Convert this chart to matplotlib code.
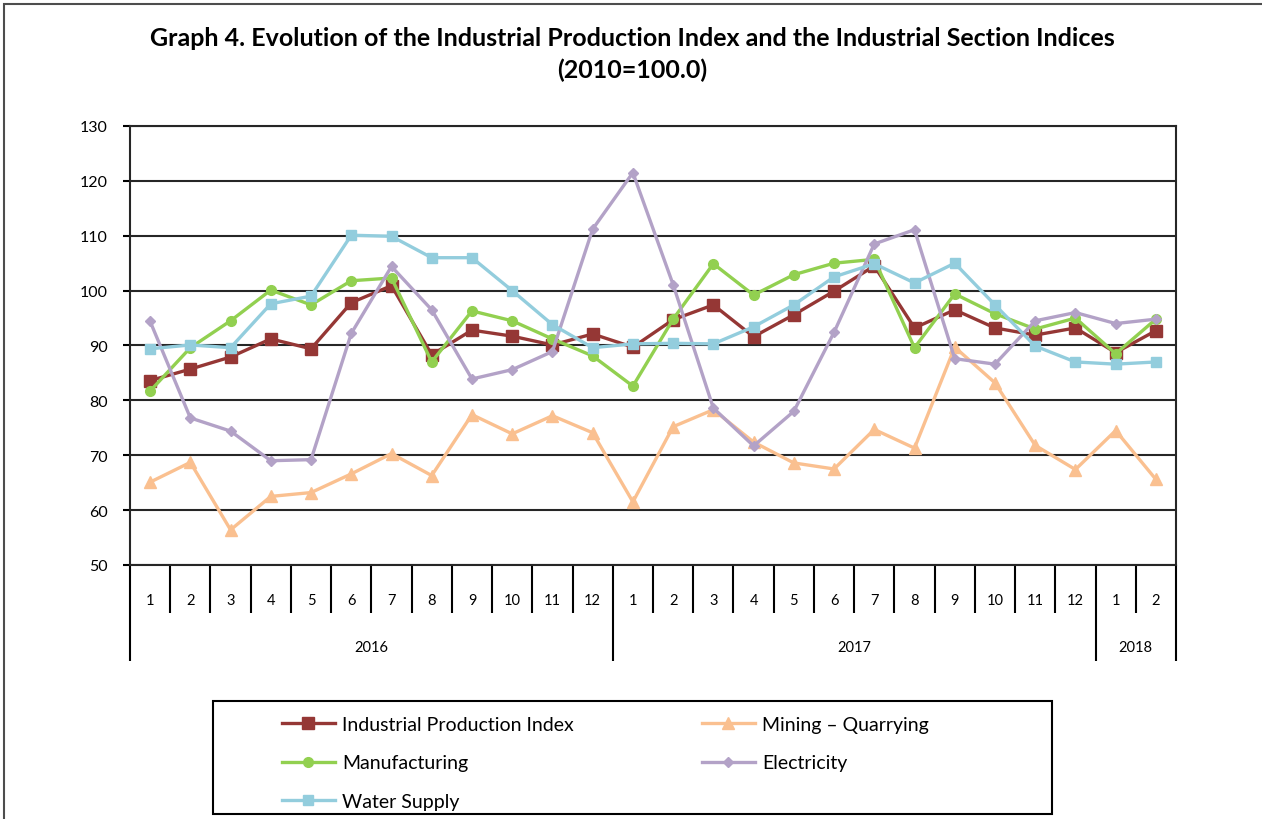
import matplotlib.pyplot as plt
from matplotlib.patches import Rectangle
import matplotlib.transforms as mtransforms

plt.rcParams['font.family'] = ['Lato', 'DejaVu Sans']

# month labels and years
months = [str(m) for m in range(1, 13)] * 2 + ['1', '2']
years = ['2016', '2017', '2018']
year_centres = [5.5, 17.5, 24.5]

# index values (2010=100.0)
ipi = [83.6, 85.7, 87.9, 91.2, 89.4, 97.8, 100.9, 88.3, 92.8, 91.7, 90.1, 92.1,
       89.7, 94.7, 97.4, 91.6, 95.6, 99.9, 104.5, 93.2, 96.5, 93.2, 91.9, 93.2,
       88.7, 92.7]
mining = [65.1, 68.7, 56.4, 62.5, 63.2, 66.6, 70.3, 66.3, 77.4, 73.9, 77.2, 74.1,
          61.5, 75.2, 78.3, 72.4, 68.6, 67.5, 74.7, 71.3, 89.7, 83.2, 71.8, 67.4,
          74.5, 65.6]
manufacturing = [81.7, 89.6, 94.5, 100.1, 97.4, 101.8, 102.3, 87.0, 96.3, 94.5, 91.2, 88.1,
                 82.6, 94.8, 104.9, 99.2, 102.9, 105.0, 105.7, 89.6, 99.4, 95.8, 93.0, 95.0,
                 88.5, 94.8]
electricity = [94.4, 76.8, 74.4, 69.0, 69.2, 92.2, 104.4, 96.5, 83.9, 85.6, 88.9, 111.2,
               121.5, 101.1, 78.6, 71.7, 78.0, 92.4, 108.5, 111.1, 87.6, 86.6, 94.5, 96.0,
               94.0, 94.8]
water = [89.4, 90.1, 89.6, 97.6, 99.0, 110.1, 109.9, 106.0, 106.0, 100.0, 93.8, 89.6,
         90.3, 90.4, 90.3, 93.4, 97.4, 102.5, 104.9, 101.4, 105.0, 97.4, 89.9, 87.0,
         86.6, 87.0]

W, H = 1262, 820
fig = plt.figure(figsize=(W / 100, H / 100), dpi=100)
ax = fig.add_axes([130 / W, (H - 566) / H, 1046 / W, 439 / H])

x = list(range(len(months)))
lw = 2.4
l_ipi, = ax.plot(x, ipi, color='#953735', lw=lw, marker='s', ms=8, label='Industrial Production Index', zorder=3)
l_min, = ax.plot(x, mining, color='#FAC090', lw=lw, marker='^', ms=9, label='Mining \u2013 Quarrying', zorder=3)
l_man, = ax.plot(x, manufacturing, color='#92D050', lw=lw, marker='o', ms=7, label='Manufacturing', zorder=3)
l_ele, = ax.plot(x, electricity, color='#B3A2C7', lw=lw, marker='D', ms=5, label='Electricity', zorder=3)
l_wat, = ax.plot(x, water, color='#93CDDD', lw=lw, marker='s', ms=7.5, label='Water Supply', zorder=3)

ax.set_xlim(-0.5, 25.5)
ax.set_ylim(50, 130)
ax.set_yticks(range(50, 131, 10))
ax.yaxis.grid(True, color='#262626', lw=1.5)
ax.set_axisbelow(True)
for s in ax.spines.values():
    s.set_color('#262626')
    s.set_linewidth(1.5)
ax.tick_params(axis='y', length=5, width=1.5, pad=11, labelsize=11.5, colors='#000000')

# category separators under the axis
seps = [i + 0.5 for i in range(25) if i not in (11, 23)]
ax.set_xticks(seps)
ax.set_xticks([-0.5, 11.5, 23.5, 25.5], minor=True)
ax.tick_params(axis='x', which='major', length=34.6, width=1.5, labelbottom=False)
ax.tick_params(axis='x', which='minor', length=69, width=1.5, labelbottom=False)

trans = mtransforms.blended_transform_factory(ax.transData, ax.transAxes)
for i, m in enumerate(months):
    ax.text(i, -35 / 439, m, transform=trans, ha='center', va='center', fontsize=10.5)
for xc, yr in zip(year_centres, years):
    ax.text(xc, -82 / 439, yr, transform=trans, ha='center', va='center', fontsize=10.5)

# title
fig.text(632 / W, 1 - 38 / H,
         'Graph 4. Evolution of the Industrial Production Index and the Industrial Section Indices',
         ha='center', va='center', fontsize=18, fontweight='bold')
fig.text(632 / W, 1 - 70 / H, '(2010=100.0)', ha='center', va='center', fontsize=18, fontweight='bold')

# legend box and entries
fig.add_artist(Rectangle((213 / W, 1 - 815 / H), (1052 - 213) / W, (815 - 702) / H,
                         transform=fig.transFigure, fill=False, ec='#000000', lw=1.5))
leg_kw = dict(frameon=False, loc='upper left', fontsize=14, handlelength=2.7,
              handletextpad=0.4, borderpad=0, labelspacing=1.1, borderaxespad=0)
fig.legend([l_ipi, l_man, l_wat], [l.get_label() for l in (l_ipi, l_man, l_wat)],
           bbox_to_anchor=(282 / W, 1 - 717 / H), **leg_kw)
fig.legend([l_min, l_ele], [l.get_label() for l in (l_min, l_ele)],
           bbox_to_anchor=(702 / W, 1 - 717 / H), **leg_kw)

# outer chart border
fig.add_artist(Rectangle((4 / W, -0.1), 1.2, (H - 5) / H + 0.1,
                         transform=fig.transFigure, fill=False, ec='#4d4d4d', lw=1.5))

fig.savefig('out.png', dpi=100)
